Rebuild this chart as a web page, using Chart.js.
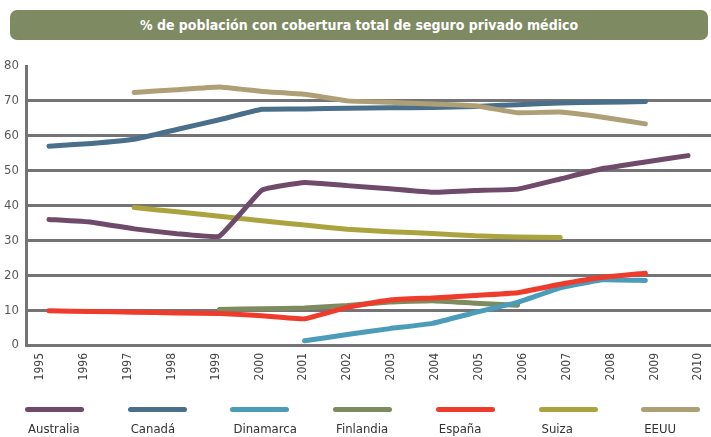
<!DOCTYPE html>
<html lang="es">
<head>
    <meta charset="UTF-8">
    <title>Seguro privado médico</title>
    <script src="https://cdn.jsdelivr.net/npm/chart.js@4.4.0/dist/chart.umd.min.js"></script>
    <style>
        body { margin: 0; background: #fff; }
        .wrap { position: relative; width: 711px; height: 437px; overflow: hidden; }
        #chart { position: absolute; left: 0; top: 0; }
        .banner {
            position: absolute; left: 10px; top: 10px; width: 698px; height: 30px;
            background: #7e8a62; border-radius: 7px; color: #fff;
            font: bold 14px "DejaVu Sans Condensed", sans-serif;
            text-align: center; line-height: 30px;
        }
        .leg { position: absolute; top: 407px; }
        .leg .bar { width: 59px; height: 5px; border-radius: 3px; }
        .leg .txt {
            margin: 9px 0 0 3px; color: #333;
            font: 13px "DejaVu Sans Condensed", sans-serif;
        }
    </style>
</head>
<body>
<div class="wrap">
    <canvas id="chart" width="711" height="437"></canvas>
    <div class="banner">% de población con cobertura total de seguro privado médico</div>
    <div id="legend"></div>
</div>
<script>
const years = [1995, 1996, 1997, 1998, 1999, 2000, 2001, 2002, 2003, 2004, 2005, 2006, 2007, 2008, 2009, 2010];
const countries = ['Australia', 'Canadá', 'Dinamarca', 'Finlandia', 'España', 'Suiza', 'EEUU'];
const colors = ['#6f4a6a', '#4a6f8a', '#4a9cb8', '#7d8b5f', '#ee3b2b', '#aba43e', '#ae9f76'];

const australia = [36, 35.2, 33.3, 31.9, 31.2, 44.4, 46.6, 45.7, 44.8, 43.8, 44.3, 44.7, 47.6, 50.6, 52.5, 54.3];
const canada    = [57, 57.8, 59, 61.8, 64.6, 67.6, 67.7, 67.9, 68, 68.1, 68.4, 68.9, 69.4, 69.6, 69.8, null];
const dinamarca = [null, null, null, null, null, null, 1.2, 3.0, 4.7, 6.2, 9.3, 12.2, 16.4, 18.7, 18.5, null];
const finlandia = [null, null, null, null, 10.2, 10.4, 10.6, 11.3, 12.3, 12.7, 12.0, 11.4, null, null, null, null];
const espana    = [9.8, 9.6, 9.4, 9.2, 9.0, 8.4, 7.5, 10.8, 12.9, 13.5, 14.2, 15.0, 17.4, 19.4, 20.6, null];
const suiza     = [null, null, 39.4, 38.2, 36.9, 35.6, 34.4, 33.2, 32.5, 32.0, 31.3, 31.0, 30.8, null, null, null];
const eeuu      = [null, null, 72.4, 73.2, 74.0, 72.7, 71.9, 70.0, 69.6, 69.1, 68.6, 66.6, 66.8, 65.3, 63.4, null];

const series = [australia, canada, dinamarca, finlandia, espana, suiza, eeuu];
const drawOrder = [2, 3, 2, 2, 0, 2, 1];

const yTicks = [0, 10, 20, 30, 40, 50, 60, 70, 80];
const fontName = '"DejaVu Sans Condensed", sans-serif';
const gridColor = '#767377';

const datasets = series.map((vals, i) => ({
    label: countries[i],
    data: years.map((yr, j) => ({ x: yr, y: vals[j] })).filter(p => p.y !== null),
    borderColor: colors[i],
    backgroundColor: colors[i],
    borderWidth: 5,
    borderCapStyle: 'round',
    borderJoinStyle: 'round',
    pointRadius: 0,
    tension: 0.1,
    order: drawOrder[i],
    xAxisID: 'x'
}));

new Chart(document.getElementById('chart'), {
    type: 'line',
    data: { datasets },
    options: {
        responsive: false,
        animation: false,
        layout: { padding: { top: 66, bottom: 42, left: 0, right: 0 } },
        plugins: { legend: { display: false }, tooltip: { enabled: false } },
        scales: {
            x: {
                type: 'linear', display: false, min: 1994.46, max: 2010.54
            },
            xLabels: {
                type: 'linear', position: 'bottom', min: 1994.68, max: 2010.29,
                grid: { display: false, drawTicks: false },
                border: { display: false },
                afterBuildTicks: s => { s.ticks = years.map(v => ({ value: v })); },
                afterFit: s => { s.height = 50; s.paddingLeft = 0; s.paddingRight = 0; },
                ticks: {
                    autoSkip: false, minRotation: 90, maxRotation: 90, padding: 8,
                    color: '#444', font: { family: fontName, size: 12 },
                    callback: v => String(v)
                }
            },
            y: {
                min: 0, max: 80,
                afterBuildTicks: s => { s.ticks = yTicks.map(v => ({ value: v })); },
                afterFit: s => { s.width = 26; },
                grid: {
                    drawTicks: false, lineWidth: 3,
                    color: c => (c.tick && c.tick.value === 80) ? 'rgba(0,0,0,0)' : gridColor
                },
                border: { color: gridColor, width: 3 },
                ticks: {
                    padding: 7, color: '#58585a', font: { family: fontName, size: 13 }
                }
            }
        }
    }
});

// leyenda: barra de color con el nombre debajo
const legend = document.getElementById('legend');
countries.forEach((name, i) => {
    const item = document.createElement('div');
    item.className = 'leg';
    item.style.left = (25 + i * 102.7) + 'px';
    item.innerHTML = '<div class="bar" style="background:' + colors[i] + '"></div><div class="txt">' + name + '</div>';
    legend.appendChild(item);
});
</script>
</body>
</html>
